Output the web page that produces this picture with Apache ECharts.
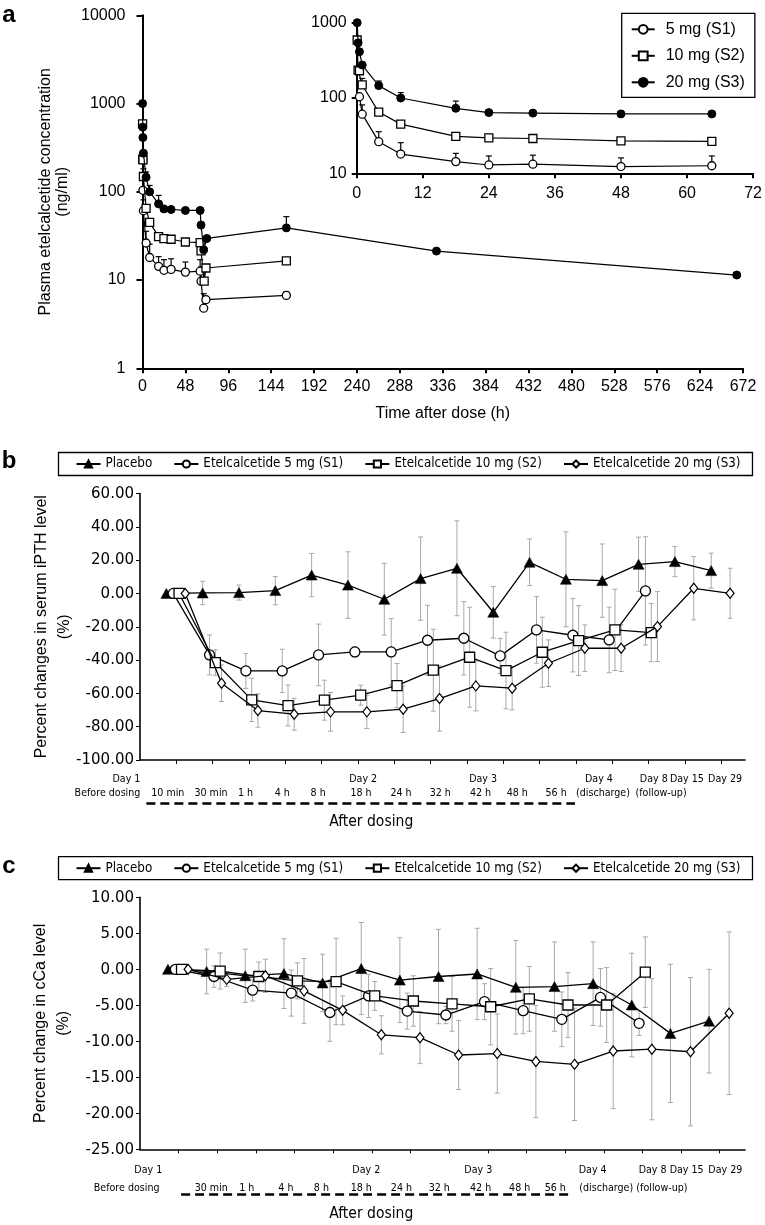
<!DOCTYPE html>
<html><head><meta charset="utf-8">
<script src="https://cdn.jsdelivr.net/npm/echarts@6.0.0/dist/echarts.min.js"></script>
<style>html,body{margin:0;padding:0;background:#fff;}#chart{width:765px;height:1225px;}</style>
</head><body><div id="chart"></div>
<script>
// ---------- Panel a : plasma etelcalcetide concentration (ng/ml) ----------
const doseNames = ['5 mg (S1)', '10 mg (S2)', '20 mg (S3)'];
const earlyTimes = [0.083, 0.25, 0.5, 1, 4, 8, 18, 24, 32, 48, 64.5];
const s1Early = [null, null, 104, 61, 26.3, 18, 14.3, 12.9, 13.2, 12.3, 12.6];
const s2Early = [589, 235, 230, 149, 65, 45, 31, 29.5, 29, 27, 26.6];
const s3Early = [1000, 540, 412, 274, 146, 100, 73, 64, 63, 61.5, 61.5];
const s1EarlySD = [null, null, null, 20, 9.4, 7.5, 4.1, 4.1, 4.2, 3.7, 4.4];
const s2EarlySD = [null, null, null, 33, null, null, null, null, null, null, null];
const s3EarlySD = [null, null, null, null, 22, 18, 18, null, null, null, null];
const s1LateTimes = [65.5, 68.5, 71, 161];
const s1Late = [9.7, 4.8, 6.0, 6.7];
const s1LateSD = [4.3, 2.2, null, 0.6];
const s2LateTimes = [65.5, 69, 71, 161];
const s2Late = [21.4, 9.7, 13.7, 16.5];
const s2LateSD = [5, 4.3, null, null];
const s3LateTimes = [65.5, 68.5, 72, 161, 329, 665];
const s3Late = [42, 22, 29.6, 39, 21.3, 11.4];
const s3LateSD = [null, null, null, 13.3, 1, null];

// ---------- Panels b, c ----------
const groupNames = ['Placebo', 'Etelcalcetide 5 mg (S1)', 'Etelcalcetide 10 mg (S2)', 'Etelcalcetide 20 mg (S3)'];
const pthTimepoints = ['Before dosing','10 min','30 min','1 h','4 h','8 h','18 h','24 h','32 h','42 h','48 h','56 h','Day 4','Day 8','Day 15','Day 29'];
const pthPlacebo   = [0, 0.3, 0.5, 1.7, 11, 5, -3.5, 8.9, 15.1, -11.3, 18.7, 8.5, 7.7, 17.5, 19.1, 13.7];
const pthPlaceboSD = [0, 7, 4.5, 8.5, 13, 20, 21.5, 25, 28.5, 15.5, 14, 28.5, 22, 16.3, 9, 10.5];
const pthS1   = [0, -36.9, -46.5, -46.5, -36.9, -35.1, -35.1, -28.1, -26.9, -37.5, -21.9, -25.1, -27.9, 1.5];
const pthS1SD = [0, 12, 10.5, 13, 18.5, 3, 20, 21, 22, 10.5, 20, 22, 19.7, 32.5];
const pthS2   = [0, -41.5, -63.9, -67.3, -64.1, -61.1, -55.3, -46.1, -38.3, -46.3, -35.3, -28.3, -21.9, -23.5];
const pthS2SD = [0, 7.6, 13, 12.3, 12, 6, 13.3, 24.6, 30, 23, 21, 21, 24.4, 17.5];
const pthS3   = [0, -53.9, -70.3, -72.5, -71.1, -71.1, -69.5, -63.1, -55.5, -56.9, -41.9, -32.9, -32.9, -19.9, 3.1, 0.1];
const pthS3SD = [0, 11, 10, 9.6, 11.6, 10, 14, 19.6, 15, 13, 14, 14, 14, 21, 19, 15];

const caTimepoints = ['Before dosing','30 min','1 h','4 h','8 h','18 h','24 h','32 h','42 h','48 h','56 h','Day 4','Day 8','Day 15','Day 29'];
const caPlacebo   = [0, -0.3, -0.9, -0.6, -1.9, 0.1, -1.5, -1.0, -0.65, -2.5, -2.4, -2.0, -4.96, -8.9, -7.2];
const caPlaceboSD = [0, 3.1, 3.7, 4.85, 4, 6.4, 5.9, 6.55, 6.35, 6.5, 6.2, 5.8, 7.2, 9.6, 7.2];
const caS1   = [0, -1.0, -2.9, -3.3, -6.0, -3.7, -5.8, -6.35, -4.5, -5.75, -6.95, -3.9, -7.5];
const caS1SD = [0, 1.5, 1.5, 3.2, 4, 3, 2.5, 1.2, 2.5, 3.2, 3.8, 4, 1.7];
const caS2   = [0, -0.24, -1.0, -1.6, -1.7, -3.7, -4.4, -4.8, -5.2, -4.1, -4.96, -4.96, -0.4];
const caS2SD = [0, 2.5, 2, 2.5, 6, 2, 3.5, 3.8, 5.3, 4.5, 4.5, 5.2, 4.9];
const caS3   = [0, -1.4, -0.9, -3.0, -5.7, -9.1, -9.5, -11.9, -11.7, -12.8, -13.2, -11.35, -11.1, -11.45, -6.1];
const caS3SD = [0, 1, 2.3, 4.5, 2, 2.65, 3.6, 4.8, 5.5, 7.8, 7.8, 8, 9.8, 10.3, 11.3];

// x-axis text under panels b and c
const dayLabels = ['Day 1', 'Day 2', 'Day 3', 'Day 4', 'Day 8', 'Day 15', 'Day 29'];
const pthTimeLabels = ['Before dosing','10 min','30 min','1 h','4 h','8 h','18 h','24 h','32 h','42 h','48 h','56 h','(discharge)','(follow-up)'];
const caTimeLabels = ['Before dosing','30 min','1 h','4 h','8 h','18 h','24 h','32 h','42 h','48 h','56 h','(discharge)','(follow-up)'];

// ---------- layout (not data) ----------
const groupOffsets = [0, 0.19, 0.35, 0.52];
const pthDayPos  = [-0.715, 5.42, 8.72, 11.91, 13.42, 14.33, 15.38];
const pthTimePos = [-0.715, 0.04, 1.23, 2.18, 3.19, 4.18, 5.36, 6.46, 7.54, 8.65, 9.66, 10.73, 12.02, 13.62];
const caDayPos   = [-0.51, 5.13, 8.03, 10.99, 12.54, 13.42, 14.42];
const caTimePos  = [-1.07, 1.12, 2.04, 3.05, 3.97, 5.0, 6.04, 7.02, 8.09, 9.1, 10.02, 11.34, 12.78];

function hasFont(name) {
  const c = document.createElement('canvas').getContext('2d');
  const t = 'Etelcalcetide 5 mg (S1) 0123456789';
  c.font = '20px monospace'; const a = c.measureText(t).width;
  c.font = '20px "' + name + '", monospace'; const b = c.measureText(t).width;
  return Math.abs(a - b) > 0.5;
}
const SANS = '"Liberation Sans", Arial, Helvetica, sans-serif';
let NARROW = SANS;
if (hasFont('Liberation Sans Narrow')) NARROW = '"Liberation Sans Narrow", ' + SANS;
else if (hasFont('DejaVu Sans Condensed')) NARROW = '"DejaVu Sans Condensed", ' + SANS;
const measCtx = document.createElement('canvas').getContext('2d');
function textW(family, size, s) { measCtx.font = size + 'px ' + family; return measCtx.measureText(s).width; }
function fitSize(family, s, target) { return Math.round(100 * target / textW(family, 100, s) * 10) / 10; }

const legendFont = fitSize(NARROW, 'Etelcalcetide 10 mg (S2)', 147);
const tickFont = fitSize(NARROW, '-100.00', 58);
const xLabFont = fitSize(NARROW, 'Before dosing', 66);
const afterFont = fitSize(NARROW, 'After dosing', 84);

const legPadL = 17, legPadR = 12, legIconW = 24, legBoxW = 690;
const legTextSum = groupNames.reduce((s, n) => s + textW(NARROW, legendFont, n) + legIconW + 5, 0);
const legGap = Math.max(6, (legBoxW - legPadL - legPadR - legTextSum) / 3);

const chart = echarts.init(document.getElementById('chart'), null, { renderer: 'canvas' });

function pairs(ts, vs) { const o = []; ts.forEach((t, i) => { if (vs[i] != null) o.push([t, vs[i]]); }); return o; }
function errTriples(ts, vs, es) { const o = []; ts.forEach((t, i) => { if (vs[i] != null && es[i] != null && es[i] > 0) o.push([t, vs[i], es[i]]); }); return o; }

function upperErr(params, api) {
  const x = api.value(0), y = api.value(1), e = api.value(2);
  const p0 = api.coord([x, y]), p1 = api.coord([x, y + e]);
  const st = { stroke: '#000', lineWidth: 1.2 };
  return { type: 'group', children: [
    { type: 'line', shape: { x1: p0[0], y1: p0[1], x2: p1[0], y2: p1[1] }, style: st },
    { type: 'line', shape: { x1: p1[0] - 3, y1: p1[1], x2: p1[0] + 3, y2: p1[1] }, style: st }
  ] };
}
function sdErr(params, api) {
  const x = api.value(0), y = api.value(1), e = api.value(2);
  const p1 = api.coord([x, y + e]), p2 = api.coord([x, y - e]);
  const st = { stroke: '#a8a8a8', lineWidth: 1 };
  return { type: 'group', children: [
    { type: 'line', shape: { x1: p1[0], y1: p1[1], x2: p2[0], y2: p2[1] }, style: st },
    { type: 'line', shape: { x1: p1[0] - 2.5, y1: p1[1], x2: p1[0] + 2.5, y2: p1[1] }, style: st },
    { type: 'line', shape: { x1: p2[0] - 2.5, y1: p2[1], x2: p2[0] + 2.5, y2: p2[1] }, style: st }
  ] };
}

const doseStyle = [
  { symbol: 'circle', itemStyle: { color: '#fff', borderColor: '#000', borderWidth: 1.3 } },
  { symbol: 'rect', itemStyle: { color: '#fff', borderColor: '#000', borderWidth: 1.3 } },
  { symbol: 'circle', itemStyle: { color: '#000', borderColor: '#000', borderWidth: 1 } }
];
const groupStyle = [
  { symbol: 'triangle', symbolSize: [11, 10], itemStyle: { color: '#000', borderColor: '#000', borderWidth: 0.5 } },
  { symbol: 'circle', symbolSize: 10, itemStyle: { color: '#fff', borderColor: '#000', borderWidth: 1.3 } },
  { symbol: 'rect', symbolSize: 10, itemStyle: { color: '#fff', borderColor: '#000', borderWidth: 1.3 } },
  { symbol: 'diamond', symbolSize: [8, 10], itemStyle: { color: '#fff', borderColor: '#000', borderWidth: 1.2 } }
];

const earlyVals = [s1Early, s2Early, s3Early];
const earlySD = [s1EarlySD, s2EarlySD, s3EarlySD];
const lateTimes = [s1LateTimes, s2LateTimes, s3LateTimes];
const lateVals = [s1Late, s2Late, s3Late];
const lateSD = [s1LateSD, s2LateSD, s3LateSD];

const series = [];
for (let i = 0; i < 3; i++) {
  const allT = earlyTimes.concat(lateTimes[i]);
  const allV = earlyVals[i].concat(lateVals[i]);
  const allE = earlySD[i].concat(lateSD[i]);
  series.push({ type: 'custom', name: 'errA' + i, xAxisIndex: 0, yAxisIndex: 0, renderItem: upperErr,
    data: errTriples(allT, allV, allE), encode: { x: 0, y: 1 }, z: 1, silent: true });
  series.push({ type: 'custom', name: 'errI' + i, xAxisIndex: 1, yAxisIndex: 1, renderItem: upperErr,
    data: errTriples(earlyTimes, earlyVals[i], earlySD[i]), encode: { x: 0, y: 1 }, z: 1, silent: true });
}
for (let i = 0; i < 3; i++) {
  const allT = earlyTimes.concat(lateTimes[i]);
  const allV = earlyVals[i].concat(lateVals[i]);
  const common = { type: 'line', name: doseNames[i], symbol: doseStyle[i].symbol, symbolSize: 8,
    itemStyle: doseStyle[i].itemStyle, lineStyle: { color: '#000', width: 1.2 }, z: 3 + i,
    showAllSymbol: true, silent: true };
  series.push(Object.assign({}, common, { xAxisIndex: 0, yAxisIndex: 0, data: pairs(allT, allV) }));
  series.push(Object.assign({}, common, { xAxisIndex: 1, yAxisIndex: 1, data: pairs(earlyTimes, earlyVals[i]) }));
}
const pthVals = [pthPlacebo, pthS1, pthS2, pthS3];
const pthSDs = [pthPlaceboSD, pthS1SD, pthS2SD, pthS3SD];
const caVals = [caPlacebo, caS1, caS2, caS3];
const caSDs = [caPlaceboSD, caS1SD, caS2SD, caS3SD];
[[pthVals, pthSDs, 2], [caVals, caSDs, 3]].forEach(([vals, sds, ax]) => {
  for (let g = 0; g < 4; g++) {
    const xs = vals[g].map((v, k) => k + groupOffsets[g]);
    series.push({ type: 'custom', name: 'err' + ax + g, xAxisIndex: ax, yAxisIndex: ax, renderItem: sdErr,
      data: errTriples(xs, vals[g], sds[g]), encode: { x: 0, y: 1 }, z: 1, silent: true });
  }
  for (let g = 0; g < 4; g++) {
    const xs = vals[g].map((v, k) => k + groupOffsets[g]);
    series.push({ type: 'line', name: groupNames[g], xAxisIndex: ax, yAxisIndex: ax,
      data: pairs(xs, vals[g]), symbol: groupStyle[g].symbol, symbolSize: groupStyle[g].symbolSize,
      itemStyle: groupStyle[g].itemStyle, lineStyle: { color: '#000', width: 1.3 }, z: 3 + g,
      showAllSymbol: true, silent: true });
  }
});

const axLine = (w) => ({ show: true, onZero: false, lineStyle: { color: '#000', width: w } });
const logFmt = (v) => String(Math.round(v));
const fix2 = (v) => v.toFixed(2);

const option = {
  animation: false,
  backgroundColor: '#fff',
  textStyle: { fontFamily: SANS, color: '#000' },
  grid: [
    { left: 142.5, top: 15.3, width: 600.5, height: 353, containLabel: false },
    { left: 356.7, top: 22.7, width: 398.3, height: 150.6, containLabel: false },
    { left: 140, top: 493.5, width: 605, height: 266.5, containLabel: false },
    { left: 140, top: 897.3, width: 605, height: 252, containLabel: false }
  ],
  xAxis: [
    { type: 'value', gridIndex: 0, min: 0, max: 672, interval: 48, axisLine: axLine(2),
      axisTick: { show: true, inside: false, length: 5, lineStyle: { color: '#000', width: 2 } },
      axisLabel: { fontSize: 16, color: '#000', margin: 10, fontFamily: SANS }, splitLine: { show: false },
      name: 'Time after dose (h)', nameLocation: 'middle', nameGap: 37, nameMoveOverlap: false,
      nameTextStyle: { fontSize: 16, color: '#000', fontFamily: SANS } },
    { type: 'value', gridIndex: 1, min: 0, max: 72, interval: 12, axisLine: axLine(2),
      axisTick: { show: true, inside: false, length: 5, lineStyle: { color: '#000', width: 2 } },
      axisLabel: { fontSize: 16, color: '#000', margin: 12, fontFamily: SANS }, splitLine: { show: false } },
    { type: 'value', gridIndex: 2, min: -0.725, max: 15.93, interval: 1, axisLine: axLine(1.6),
      axisTick: { show: true, inside: false, length: 4, lineStyle: { color: '#000', width: 1 },
        customValues: pthTimepoints.map((t, i) => i + 0.275) },
      axisLabel: { show: false }, splitLine: { show: false } },
    { type: 'value', gridIndex: 3, min: -0.724, max: 14.93, interval: 1, axisLine: axLine(1.6),
      axisTick: { show: true, inside: false, length: 4, lineStyle: { color: '#000', width: 1 },
        customValues: caTimepoints.map((t, i) => i + 0.276) },
      axisLabel: { show: false }, splitLine: { show: false } }
  ],
  yAxis: [
    { type: 'log', logBase: 10, gridIndex: 0, min: 1, max: 10000, axisLine: axLine(2),
      axisTick: { show: true, inside: false, length: 6, lineStyle: { color: '#000', width: 2 } },
      minorTick: { show: false }, splitLine: { show: false },
      axisLabel: { fontSize: 16, color: '#000', margin: 17, formatter: logFmt, fontFamily: SANS },
      name: 'Plasma etelcalcetide concentration\n(ng/ml)', nameLocation: 'middle', nameRotate: 90, nameGap: 71,
      nameMoveOverlap: false,
      nameTextStyle: { fontSize: 16, lineHeight: 17, color: '#000', fontFamily: SANS } },
    { type: 'log', logBase: 10, gridIndex: 1, min: 10, max: 1000, axisLine: axLine(2),
      axisTick: { show: true, inside: false, length: 5, lineStyle: { color: '#000', width: 2 } },
      minorTick: { show: false }, splitLine: { show: false },
      axisLabel: { fontSize: 16, color: '#000', margin: 10, formatter: logFmt, fontFamily: SANS } },
    { type: 'value', gridIndex: 2, min: -100, max: 60, interval: 20, axisLine: axLine(1.6),
      axisTick: { show: true, inside: false, length: 4, lineStyle: { color: '#000', width: 1 } },
      splitLine: { show: false },
      axisLabel: { fontSize: tickFont, color: '#000', margin: 6, formatter: fix2, fontFamily: NARROW },
      name: 'Percent changes in serum iPTH level\n(%)', nameLocation: 'middle', nameRotate: 90, nameGap: 64,
      nameMoveOverlap: false,
      nameTextStyle: { fontSize: 16, lineHeight: 23, color: '#000', fontFamily: SANS } },
    { type: 'value', gridIndex: 3, min: -25, max: 10, interval: 5, axisLine: axLine(1.6),
      axisTick: { show: true, inside: false, length: 4, lineStyle: { color: '#000', width: 1 } },
      splitLine: { show: false },
      axisLabel: { fontSize: tickFont, color: '#000', margin: 6, formatter: fix2, fontFamily: NARROW },
      name: 'Percent change in cCa level\n(%)', nameLocation: 'middle', nameRotate: 90, nameGap: 65,
      nameMoveOverlap: false,
      nameTextStyle: { fontSize: 16, lineHeight: 23, color: '#000', fontFamily: SANS } }
  ],
  legend: [
    { data: doseNames, orient: 'vertical', left: 621.7, top: 13.3, padding: [7, 10, 6, 9], itemGap: 8.5,
      itemWidth: 23, itemHeight: 11, borderColor: '#000', borderWidth: 1.3, selectedMode: false,
      textStyle: { fontSize: 16, color: '#000', fontFamily: SANS, lineHeight: 18, padding: [0, 0, 0, 6] } },
    { data: groupNames, orient: 'horizontal', left: 58.5, top: 452.5, padding: [4, legPadR, 4, legPadL], itemGap: legGap,
      itemWidth: legIconW, itemHeight: 9, borderColor: '#000', borderWidth: 1.3, selectedMode: false,
      textStyle: { fontSize: legendFont, color: '#000', fontFamily: NARROW, lineHeight: 15 } },
    { data: groupNames, orient: 'horizontal', left: 58.5, top: 856.7, padding: [4, legPadR, 4, legPadL], itemGap: legGap,
      itemWidth: legIconW, itemHeight: 9, borderColor: '#000', borderWidth: 1.3, selectedMode: false,
      textStyle: { fontSize: legendFont, color: '#000', fontFamily: NARROW, lineHeight: 15 } }
  ],
  series: series
};
chart.setOption(option);

// ---------- text under the x axes and panel letters ----------
const g = [];
function txt(x, y, s, font, align) {
  g.push({ type: 'text', x: x, y: y, silent: true,
    style: { text: s, font: font, fill: '#000', align: align || 'center', verticalAlign: 'middle',
      textAlign: align || 'center', textVerticalAlign: 'middle' } });
}
const lab = xLabFont + 'px ' + NARROW;
const big = afterFont + 'px ' + NARROW;
function px(ax, k) { return chart.convertToPixel({ xAxisIndex: ax }, k); }

dayLabels.forEach((s, i) => txt(px(2, pthDayPos[i]), 779, s, lab, i === 0 ? 'right' : 'center'));
pthTimeLabels.forEach((s, i) => txt(px(2, pthTimePos[i]), 793.5, s, lab, i === 0 ? 'right' : 'center'));
g.push({ type: 'line', silent: true, shape: { x1: px(2, -0.55), y1: 803.5, x2: px(2, 11.25), y2: 803.5 },
  style: { stroke: '#000', lineWidth: 2.5, lineDash: [9, 5] } });
txt(px(2, 5.64), 822, 'After dosing', big);

dayLabels.forEach((s, i) => txt(px(3, caDayPos[i]), 1170, s, lab));
caTimeLabels.forEach((s, i) => txt(px(3, caTimePos[i]), 1188.5, s, lab));
g.push({ type: 'line', silent: true, shape: { x1: px(3, 0.34), y1: 1194.5, x2: px(3, 10.42), y2: 1194.5 },
  style: { stroke: '#000', lineWidth: 2.5, lineDash: [9, 5] } });
txt(px(3, 5.26), 1214, 'After dosing', big);

txt(9, 15, 'a', 'bold 24px ' + SANS);
txt(9, 461, 'b', 'bold 24px ' + SANS);
txt(9, 866, 'c', 'bold 24px ' + SANS);

chart.setOption({ graphic: g });
</script>
</body></html>
